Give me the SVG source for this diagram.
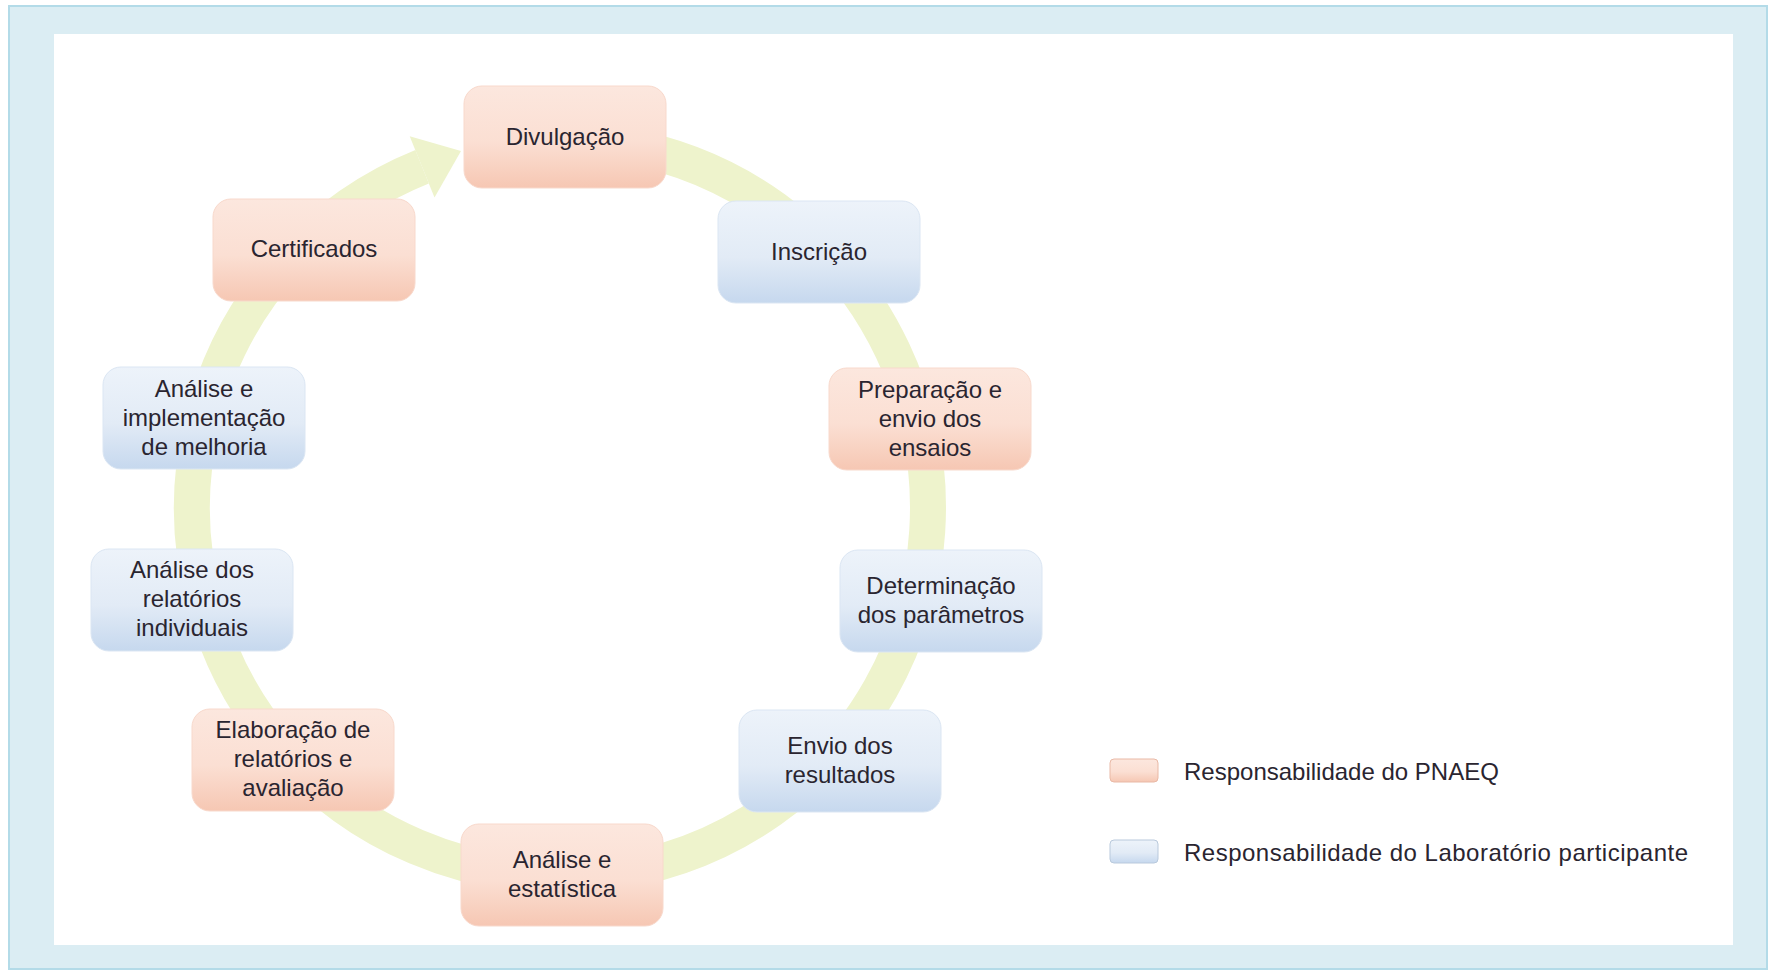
<svg xmlns="http://www.w3.org/2000/svg" width="1770" height="971" viewBox="0 0 1770 971">
<defs>
<linearGradient id="gPeach" x1="0" y1="0" x2="0" y2="1">
<stop offset="0" stop-color="#fce7de"/>
<stop offset="0.55" stop-color="#fbdfd3"/>
<stop offset="1" stop-color="#f6c7b3"/>
</linearGradient>
<linearGradient id="gBlue" x1="0" y1="0" x2="0" y2="1">
<stop offset="0" stop-color="#edf3fa"/>
<stop offset="0.55" stop-color="#e2ebf6"/>
<stop offset="1" stop-color="#c6d8ee"/>
</linearGradient>
<style>
.peach{fill:url(#gPeach);stroke:#f8d9cc;stroke-width:1}
.blue{fill:url(#gBlue);stroke:#dbe6f3;stroke-width:1}
.lbl{font-family:"Liberation Sans",Arial,sans-serif;font-size:24px;fill:#2a2530;text-anchor:middle}
.leg{font-family:"Liberation Sans",Arial,sans-serif;font-size:24px;fill:#2a2530}
.ring{fill:none;stroke:#eef3cc;stroke-width:36}
</style>
</defs>
<rect x="9" y="6" width="1758" height="963" fill="#dbedf3" stroke="#b3dbe8" stroke-width="2"/>
<rect x="54" y="34" width="1679" height="911" fill="#ffffff"/>
<g id="connectors">
<path class="ring" d="M 623.9 145.6 A 368 368 0 1 1 422.1 166.8"/>
<polygon points="461,151 409.7,136.2 434.5,197.4" fill="#eef3cc"/>
</g>
<g id="n1"><rect class="peach" x="464" y="86" width="202" height="102" rx="18"/><text class="lbl" x="565" y="145">Divulgação</text></g>
<g id="n2"><rect class="blue" x="718" y="201" width="202" height="102" rx="18"/><text class="lbl" x="819" y="260">Inscrição</text></g>
<g id="n3"><rect class="peach" x="829" y="368" width="202" height="102" rx="18"/><text class="lbl" x="930"><tspan x="930" y="398">Preparação e</tspan><tspan x="930" y="427">envio dos</tspan><tspan x="930" y="456">ensaios</tspan></text></g>
<g id="n4"><rect class="blue" x="840" y="550" width="202" height="102" rx="18"/><text class="lbl"><tspan x="941" y="594">Determinação</tspan><tspan x="941" y="623">dos parâmetros</tspan></text></g>
<g id="n5"><rect class="blue" x="739" y="710" width="202" height="102" rx="18"/><text class="lbl"><tspan x="840" y="754">Envio dos</tspan><tspan x="840" y="783">resultados</tspan></text></g>
<g id="n6"><rect class="peach" x="461" y="824" width="202" height="102" rx="18"/><text class="lbl"><tspan x="562" y="868">Análise e</tspan><tspan x="562" y="897">estatística</tspan></text></g>
<g id="n7"><rect class="peach" x="192" y="709" width="202" height="102" rx="18"/><text class="lbl"><tspan x="293" y="738">Elaboração de</tspan><tspan x="293" y="767">relatórios e</tspan><tspan x="293" y="796">avaliação</tspan></text></g>
<g id="n8"><rect class="blue" x="91" y="549" width="202" height="102" rx="18"/><text class="lbl"><tspan x="192" y="578">Análise dos</tspan><tspan x="192" y="607">relatórios</tspan><tspan x="192" y="636">individuais</tspan></text></g>
<g id="n9"><rect class="blue" x="103" y="367" width="202" height="102" rx="18"/><text class="lbl"><tspan x="204" y="397">Análise e</tspan><tspan x="204" y="426">implementação</tspan><tspan x="204" y="455">de melhoria</tspan></text></g>
<g id="n10"><rect class="peach" x="213" y="199" width="202" height="102" rx="18"/><text class="lbl" x="314" y="257">Certificados</text></g>
<g id="legend">
<rect x="1110" y="759" width="48" height="23" rx="4" fill="url(#gPeach)" stroke="#e9b9a6" stroke-width="1"/>
<text class="leg" x="1184" y="780">Responsabilidade do PNAEQ</text>
<rect x="1110" y="840" width="48" height="23" rx="4" fill="url(#gBlue)" stroke="#b9c9dc" stroke-width="1"/>
<text class="leg" x="1184" y="861" textLength="504" lengthAdjust="spacing">Responsabilidade do Laboratório participante</text>
</g>
</svg>
